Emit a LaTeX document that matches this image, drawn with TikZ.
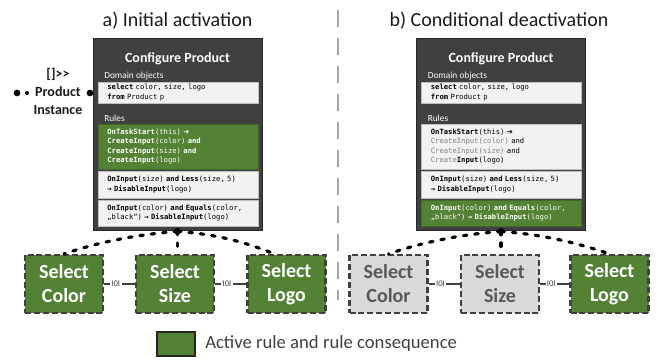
\documentclass[tikz,border=0pt]{standalone}
\usepackage{fontspec}
\setmainfont{Carlito}
\newfontfamily\codefont{DejaVu Sans Mono}
\newfontfamily\symfont{DejaVu Sans}
\usetikzlibrary{calc}
\definecolor{darkbox}{HTML}{404040}
\definecolor{actgreen}{HTML}{548235}
\definecolor{lightbox}{HTML}{F2F2F2}
\definecolor{boxline}{HTML}{BFBFBF}
\definecolor{inactfill}{HTML}{D9D9D9}
\definecolor{inacttext}{HTML}{595959}
\definecolor{dashgray}{HTML}{A6A6A6}
\definecolor{titletext}{HTML}{1A1A1A}
\definecolor{midgray}{HTML}{808080}
\newcommand{\cdfont}{\codefont\fontsize{5.4}{7}\selectfont}
\newcommand{\kw}[1]{\textbf{#1}}
\newcommand{\harr}{{\symfont\bfseries ➔}}
\begin{document}
\begin{tikzpicture}[x=0.75pt,y=-0.75pt,
  paneltitle/.style={font=\fontsize{15}{18}\selectfont, text=titletext, anchor=base},
  panel/.style={draw=black!85, line width=0.6pt, fill=darkbox, minimum width=126.75pt, minimum height=144pt, inner sep=0pt},
  boxhead/.style={font=\fontsize{10.5}{12}\selectfont\bfseries, text=white},
  sublabel/.style={font=\fontsize{7}{8}\selectfont, text=white, anchor=west, inner sep=0pt},
  rulebox/.style={draw=boxline, line width=0.5pt, fill=lightbox, text=black, font=\cdfont, align=left, text width=106pt, inner xsep=7pt, inner ysep=0pt, minimum width=120pt},
  activebox/.style={rulebox, fill=actgreen, draw=actgreen!80!black, text=white},
  selbox/.style={draw=darkbox, line width=1.6pt, dash pattern=on 4.5pt off 2.2pt, minimum width=58.5pt, minimum height=43.5pt, inner sep=0pt, align=center, font=\fontsize{15}{18}\selectfont\bfseries},
  selactive/.style={selbox, fill=actgreen, text=white},
  selinactive/.style={selbox, fill=inactfill, text=inacttext},
  dotconn/.style={draw=black, line width=2.4pt, dash pattern=on 2.6pt off 6pt, line cap=round},
  seqconn/.style={draw=darkbox, line width=0.8pt},
  seqlabel/.style={fill=white, inner sep=1pt, font=\fontsize{6.5}{7}\selectfont, text=darkbox},
  dotnode/.style={circle, fill=black, inner sep=0pt, minimum size=#1},
  divider/.style={draw=dashgray, line width=1.5pt, dash pattern=on 12.75pt off 8.25pt},
  legendbox/.style={draw=black!85, line width=1.5pt, fill=actgreen, minimum width=28.5pt, minimum height=18pt, inner sep=0pt}
]
\useasboundingbox (0,0) rectangle (656,360);

% titles
\node[paneltitle] (ta) at (177.5,27) {a) Initial activation};
\node[paneltitle] (tb) at (499,27) {b) Conditional deactivation};

% divider
\coordinate (divtop) at (338,10);
\coordinate (divbot) at (338,300);
\draw[divider] (divtop) -- (divbot);

% ---------------- left panel ----------------
\node[panel] (lp) at (177.5,134) {};
\node[boxhead] (lhead) at (177.5,59) {Configure Product};
\node[sublabel] (ldom) at (104,76) {Domain objects};
\node[rulebox, minimum height=15.75pt] (ldbox) at (178,92.5) {\kw{select} color, size, logo\\\kw{from} Product p};
\node[sublabel] (lrules) at (104,118) {Rules};
\node[activebox, minimum height=33.75pt] (lr1) at (178,146.5) {\kw{OnTaskStart}(this) \harr\\\kw{CreateInput}(color) \kw{and}\\\kw{CreateInput}(size) \kw{and}\\\kw{CreateInput}(logo)};
\node[rulebox, minimum height=20.25pt] (lr2) at (178,184.5) {\kw{OnInput}(size) \kw{and} \kw{Less}(size, 5)\\\kw{→ DisableInput}(logo)};
\node[rulebox, minimum height=19.5pt] (lr3) at (178,213) {\kw{OnInput}(color) \kw{and} \kw{Equals}(color,\\„black“) \kw{→ DisableInput}(logo)};

% product instance
\node[font=\fontsize{10.5}{13.5}\selectfont\bfseries, align=center, text=titletext] (inst) at (58,91) {{[]>{}>}\\Product\\Instance};
\node[dotnode=5pt] (pd1) at (17,93) {};
\node[dotnode=3pt] (pd2) at (27,93) {};
\node[dotnode=5pt] (pd3) at (90,93) {};

% select boxes left
\node[selactive] (lcolor) at (64,284) {Select\\Color};
\node[selactive] (lsize) at (175,284) {Select\\Size};
\node[selactive] (llogo) at (286.5,284) {Select\\Logo};

\draw[seqconn] (lcolor.east) -- node[seqlabel, pos=0.38] {I0I} (lsize.west);
\draw[seqconn] (lsize.east) -- node[seqlabel, pos=0.38] {I0I} (llogo.west);

\coordinate (lsrc) at ($(lp.south)+(0,1)$);
\draw[dotconn] (lsrc) .. controls +(-40,3) and +(35,-12) .. (lcolor.north);
\draw[dotconn] (lsrc) .. controls +(40,3) and +(-30,-12) .. ($(llogo.north)+(-12,0)$);
\draw[dotconn] (lsrc) -- (lsrc |- lsize.north);
\node[dotnode=5pt] (lsrcdot) at (lsrc) {};

% ---------------- right panel ----------------
\node[panel] (rp) at (501,134) {};
\node[boxhead] (rhead) at (501,59) {Configure Product};
\node[sublabel] (rdom) at (427.5,76) {Domain objects};
\node[rulebox, minimum height=15.75pt] (rdbox) at (501.5,92.5) {\kw{select} color, size, logo\\\kw{from} Product p};
\node[sublabel] (rrules) at (427.5,118) {Rules};
\node[rulebox, minimum height=33.75pt] (rr1) at (501.5,146.5) {\kw{OnTaskStart}(this) \harr\\\textcolor{midgray}{CreateInput(color)} and\\\textcolor{midgray}{CreateInput(size)} and\\\textcolor{midgray}{Create}\kw{Input}(logo)};
\node[rulebox, minimum height=20.25pt] (rr2) at (501.5,184.5) {\kw{OnInput}(size) \kw{and} \kw{Less}(size, 5)\\\kw{→ DisableInput}(logo)};
\node[activebox, minimum height=19.5pt] (rr3) at (501.5,213) {\kw{OnInput}(color) \kw{and} \kw{Equals}(color,\\„black“) \kw{→ DisableInput}(logo)};

% select boxes right
\node[selinactive] (rcolor) at (388.5,284) {Select\\Color};
\node[selinactive] (rsize) at (500,284) {Select\\Size};
\node[selactive] (rlogo) at (609.5,284) {Select\\Logo};

\draw[seqconn] (rcolor.east) -- node[seqlabel, pos=0.38] {I0I} (rsize.west);
\draw[seqconn] (rsize.east) -- node[seqlabel, pos=0.38] {I0I} (rlogo.west);

\coordinate (rsrc) at ($(rp.south)+(0,1)$);
\draw[dotconn] (rsrc) .. controls +(-40,3) and +(35,-12) .. (rcolor.north);
\draw[dotconn] (rsrc) .. controls +(40,3) and +(-35,-12) .. (rlogo.north);
\draw[dotconn] (rsrc) -- (rsrc |- rsize.north);
\node[dotnode=5pt] (rsrcdot) at (rsrc) {};

% legend
\node[legendbox] (leg) at (176,344) {};
\node[anchor=west, font=\fontsize{14}{16}\selectfont, text=darkbox, inner sep=0pt] (legtext) at (205,344) {Active rule and rule consequence};
\end{tikzpicture}
\end{document}
